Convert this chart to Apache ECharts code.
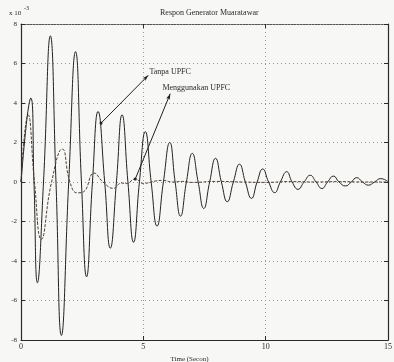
<!DOCTYPE html>
<html>
<head>
<meta charset="utf-8">
<script src="https://cdn.jsdelivr.net/npm/echarts@6/dist/echarts.min.js"></script>
<style>
  html, body { margin: 0; padding: 0; background: #f7f7f5; }
  #chart { width: 394px; height: 362px; }
</style>
</head>
<body>
<div id="chart"></div>
<script>
// respon generator: tanpa UPFC (besar) dan menggunakan UPFC (kecil), satuan x 10^-3
const tanpaT = [0, 0.4, 0.53, 0.67, 0.92, 1.2, 1.43, 1.65, 1.95, 2.23, 2.47, 2.68, 2.92, 3.15, 3.42, 3.65, 3.9, 4.13, 4.37, 4.6, 4.84, 5.08, 5.32, 5.56, 5.82, 6.08, 6.3, 6.52, 6.76, 7.0, 7.24, 7.47, 7.71, 7.95, 8.19, 8.43, 8.68, 8.93, 9.17, 9.42, 9.65, 9.88, 10.12, 10.37, 10.6, 10.86, 11.08, 11.32, 11.57, 11.82, 12.06, 12.3, 12.53, 12.77, 13.0, 13.26, 13.5, 13.72, 13.96, 14.2, 14.45, 14.7, 15]
const tanpaV = [0, 4.25, 0, -5.1, 0, 7.4, 0, -7.77, 0, 6.6, 0, -4.8, 0, 3.57, 0, -3.35, 0, 3.4, 0, -3.05, 0, 2.55, 0, -2.23, 0, 2.0, 0, -1.73, 0, 1.45, 0, -1.34, 0, 1.2, 0, -1.0, 0, 0.9, 0, -0.83, 0, 0.66, 0, -0.54, 0, 0.52, 0, -0.37, 0, 0.34, 0, -0.33, 0, 0.3, 0, -0.2, 0, 0.22, 0, -0.16, 0, 0.17, 0.02]

const upfcT = [0, 0.29, 0.55, 0.83, 1.25, 1.69, 2.0, 2.3, 2.55, 2.99, 3.35, 3.78, 4.1, 4.3, 4.67, 5.0, 5.5, 5.8, 6.2, 6.6, 7, 8, 9, 10, 11, 12, 13, 14, 15]
const upfcV = [0, 3.4, 0, -2.9, 0, 1.67, 0, -0.55, -0.5, 0.45, 0, -0.32, -0.05, -0.08, 0.15, -0.07, 0.05, 0.08, 0, 0.03, -0.02, 0.03, 0, -0.02, 0.02, 0, 0.02, 0, 0]

const xTicks = [0, 5, 10, 15]
const yTicks = [-8, -6, -4, -2, 0, 2, 4, 6, 8]

const tanpaData = tanpaT.map((t, i) => [t, tanpaV[i]])
const upfcData = upfcT.map((t, i) => [t, upfcV[i]])

const font = 'Liberation Serif'
const ink = '#2a2a2a'

let chart = echarts.init(document.getElementById('chart'))
let option = {
    backgroundColor: '#f7f7f5',
    animation: false,
    title: {
        text: 'Respon Generator Muaratawar',
        left: 155,
        top: 4,
        textStyle: { fontFamily: font, fontSize: 8, fontWeight: 'normal', color: ink }
    },
    grid: { left: 21, top: 24, width: 367, height: 316, outerBoundsMode: 'none', containLabel: false },
    xAxis: [
        {
            type: 'value',
            min: 0, max: 15, interval: 5,
            name: 'Time (Secon)',
            nameLocation: 'middle',
            nameGap: 14,
            nameTextStyle: { fontFamily: font, fontSize: 7, color: ink, padding: [0, 30, 0, 0] },
            axisLine: { onZero: false, lineStyle: { color: ink, width: 1.2 } },
            axisTick: { inside: true, length: 4, lineStyle: { color: ink } },
            axisLabel: { fontFamily: font, fontSize: 8, color: ink, margin: 3 },
            splitLine: { show: true, lineStyle: { color: '#999', type: [1, 3] } }
        },
        {
            type: 'value', position: 'top',
            min: 0, max: 15, interval: 5,
            axisLine: { show: true, onZero: false, lineStyle: { color: '#555', type: [2, 1] } },
            axisTick: { inside: true, length: 4, lineStyle: { color: ink } },
            axisLabel: { show: false },
            splitLine: { show: false }
        }
    ],
    yAxis: [
        {
            type: 'value',
            min: -8, max: 8, interval: 2,
            name: 'Δω',
            nameLocation: 'middle',
            nameRotate: 90,
            nameGap: 9,
            nameTextStyle: { fontFamily: font, fontSize: 8, color: ink },
            axisLine: { show: true, onZero: false, lineStyle: { color: ink, width: 1.2 } },
            axisTick: { show: true, inside: true, length: 4, lineStyle: { color: ink } },
            axisLabel: { fontFamily: font, fontSize: 7, color: ink, margin: 4 },
            splitLine: { show: true, lineStyle: { color: '#999', type: [1, 3] } }
        },
        {
            type: 'value', position: 'right',
            min: -8, max: 8, interval: 2,
            axisLine: { show: true, onZero: false, lineStyle: { color: ink, width: 1.2 } },
            axisTick: { show: true, inside: true, length: 4, lineStyle: { color: ink } },
            axisLabel: { show: false },
            splitLine: { show: false }
        }
    ],
    series: [
        {
            name: 'Tanpa UPFC',
            type: 'line',
            smooth: 0.5,
            symbol: 'none',
            data: tanpaData,
            lineStyle: { color: '#222', width: 1 },
            markLine: {
                silent: true,
                symbol: ['circle', 'arrow'],
                symbolSize: [3, 6],
                label: { show: false },
                lineStyle: { color: '#222', width: 1, type: 'solid' },
                data: [[{ coord: [3.27, 2.98] }, { coord: [5.2, 5.4] }]]
            }
        },
        {
            name: 'Menggunakan UPFC',
            type: 'line',
            smooth: 0.5,
            symbol: 'none',
            data: upfcData,
            lineStyle: { color: '#4a4038', width: 1, type: [3, 1.5] },
            markLine: {
                silent: true,
                symbol: ['circle', 'arrow'],
                symbolSize: [3, 6],
                label: { show: false },
                lineStyle: { color: '#222', width: 1, type: 'solid' },
                data: [[{ coord: [4.67, 0.15] }, { coord: [6.1, 4.47] }]]
            }
        }
    ]
}
chart.setOption(option)

// teks anotasi dan faktor skala
let p1 = chart.convertToPixel({ xAxisIndex: 0, yAxisIndex: 0 }, [5.25, 5.55])
let p2 = chart.convertToPixel({ xAxisIndex: 0, yAxisIndex: 0 }, [5.78, 4.78])
chart.setOption({
    graphic: [
        { type: 'text', x: p1[0], y: p1[1], style: { text: 'Tanpa UPFC', font: '8px "Liberation Serif"', fill: ink, textVerticalAlign: 'middle' } },
        { type: 'text', x: p2[0], y: p2[1], style: { text: 'Menggunakan UPFC', font: '8px "Liberation Serif"', fill: ink, textVerticalAlign: 'middle' } },
        { type: 'text', x: 9, y: 10, style: { text: 'x 10', font: '7px "Liberation Serif"', fill: ink } },
        { type: 'text', x: 24, y: 5, style: { text: '-3', font: '6px "Liberation Serif"', fill: ink } }
    ]
})
</script>
</body>
</html>
